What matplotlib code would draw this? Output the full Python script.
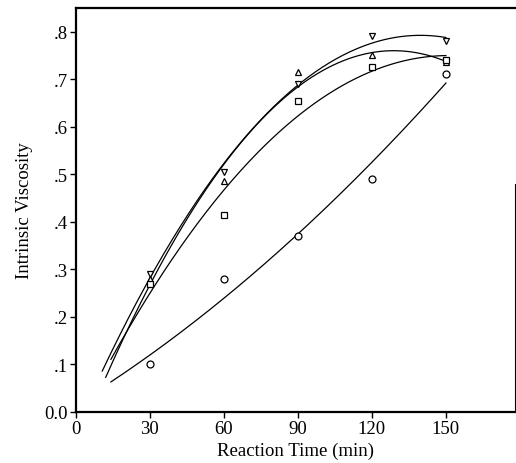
import numpy as np
import matplotlib
matplotlib.use("Agg")
import matplotlib.pyplot as plt

# reaction times (min) and intrinsic viscosity readings
times = [30, 60, 90, 120, 150]
visc_circle = [0.10, 0.28, 0.37, 0.49, 0.71]
visc_down = [0.29, 0.505, 0.69, 0.79, 0.78]
visc_up = [0.28, 0.485, 0.715, 0.75, 0.735]
visc_square = [0.27, 0.415, 0.655, 0.725, 0.74]

plt.rcParams['font.family'] = ['Liberation Serif', 'DejaVu Serif']

fig = plt.figure(figsize=(5.16, 4.64), dpi=100)
ax = fig.add_axes([0.147, 0.110, 0.851, 0.871])

# (values, marker, where the fitted curve starts)
series = [(visc_circle, 'o', 14), (visc_down, 'v', 10.5),
          (visc_up, '^', 12), (visc_square, 's', 14)]
xfit = np.linspace(10, 150, 200)
for vals, mk, x0 in series:
    # second order fit through each series
    coef = np.polyfit(times, vals, 2)
    xs = xfit[xfit >= x0]
    ax.plot(xs, np.polyval(coef, xs), color='black', lw=0.9)
    ax.plot(times, vals, linestyle='none', marker=mk, ms=5,
            mfc='white', mec='black', mew=0.9)

ax.set_xlim(0, 178)
ax.set_ylim(0, 0.85)
ax.set_xticks([0, 30, 60, 90, 120, 150])
ax.set_yticks([0.0, 0.1, 0.2, 0.3, 0.4, 0.5, 0.6, 0.7, 0.8])
ax.set_yticklabels(['0.0', '.1', '.2', '.3', '.4', '.5', '.6', '.7', '.8'])
ax.tick_params(direction='out', length=4, width=1, labelsize=13.5, pad=2)
ax.set_xlabel('Reaction Time (min)', fontsize=13.5, labelpad=3)
ax.set_ylabel('Intrinsic Viscosity', fontsize=13.5, labelpad=8)

for side in ['left', 'bottom', 'top']:
    ax.spines[side].set_linewidth(1.6)
ax.spines['right'].set_linewidth(0.8)
ax.spines['right'].set_bounds(0, 0.48)

fig.savefig('out.png', dpi=100)
